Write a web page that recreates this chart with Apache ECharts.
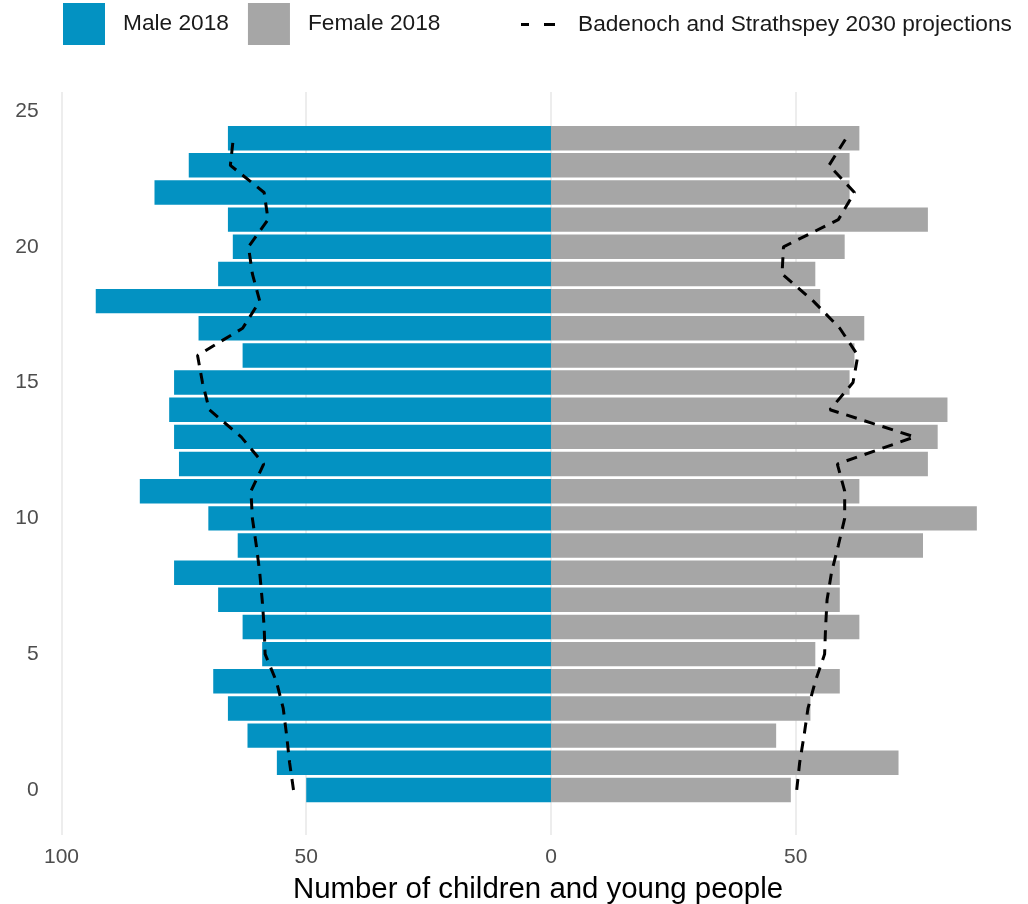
<!DOCTYPE html>
<html>
<head>
<meta charset="utf-8">
<script src="https://cdn.jsdelivr.net/npm/echarts@6/dist/echarts.min.js"></script>
<style>
html,body{margin:0;padding:0;background:#ffffff;}
#chart{width:1028px;height:904px;}
</style>
</head>
<body>
<div id="chart"></div>
<script>
// ---- Data ----
const ages = [0,1,2,3,4,5,6,7,8,9,10,11,12,13,14,15,16,17,18,19,20,21,22,23,24];
const male2018 = [50,56,62,66,69,59,63,68,77,64,70,84,76,77,78,77,63,72,93,68,65,66,81,74,66];
const female2018 = [49,71,46,53,59,54,63,59,59,76,87,63,77,79,81,61,62,64,55,54,60,77,61,61,63];
const maleProj2030 = [52.6,53.4,54,54.7,56.1,58.4,58.6,59,59.5,60.2,61,61.3,58.7,63.3,69.8,71.2,72.2,63,59.5,61,61.8,57.8,58.6,65.5,64.9];
const femaleProj2030 = [50.2,50.8,51.7,52.5,54,55.9,56.1,56.4,57.3,58.7,60,60,58.5,74.3,57,61.7,62.7,59,53.6,47.2,47.5,58.7,62,56.8,60.3];
const xTickValues = [-100,-50,0,50];
const yTickValues = [0,5,10,15,20,25];

const MALE_NAME = 'Male 2018';
const FEMALE_NAME = 'Female 2018';
const PROJ_NAME = 'Badenoch and Strathspey 2030 projections';

const chart = echarts.init(document.getElementById('chart'), null, {renderer: 'canvas'});

function barRenderer(color) {
  return function (params, api) {
    const v = api.value(0);
    const a = api.value(1);
    const p0 = api.coord([0, a]);
    const p1 = api.coord([v, a]);
    const h = api.size([0, 0.9])[1];
    return {
      type: 'rect',
      shape: {
        x: Math.min(p0[0], p1[0]),
        y: p0[1] - h / 2,
        width: Math.abs(p1[0] - p0[0]),
        height: h
      },
      style: { fill: color }
    };
  };
}

const FONT = '"Liberation Sans", Arial, sans-serif';
const DASH = [11, 8];

const option = {
  animation: false,
  backgroundColor: '#ffffff',
  textStyle: { fontFamily: FONT },
  grid: { left: 51.7, right: 7.1, top: 92, bottom: 69, containLabel: false },
  title: {
    text: 'Number of children and young people',
    left: 533,
    top: 870,
    textAlign: 'center',
    textStyle: { fontFamily: FONT, fontSize: 29.4, fontWeight: 'normal', color: '#000000' }
  },
  legend: [
    {
      data: [{ name: MALE_NAME, icon: 'rect' }, { name: FEMALE_NAME, icon: 'rect' }],
      left: 63, top: 3, padding: 0,
      itemWidth: 42, itemHeight: 42, itemGap: 19,
      selectedMode: false,
      textStyle: { fontFamily: FONT, fontSize: 22.7, color: '#1a1a1a', padding: [2, 0, 0, 13] }
    },
    {
      data: [{
        name: PROJ_NAME,
        icon: 'path://M0,0H8V3H0Z M23,0H34V3H23Z',
        itemStyle: { color: '#000000' }
      }],
      left: 521, top: 13, padding: 0,
      itemWidth: 34, itemHeight: 3,
      selectedMode: false,
      textStyle: { fontFamily: FONT, fontSize: 22.7, color: '#1a1a1a', padding: [0, 0, 0, 18] }
    }
  ],
  xAxis: {
    type: 'value',
    min: -102, max: 96,
    axisLine: { show: false },
    axisTick: { show: false },
    splitLine: { show: false },
    axisLabel: {
      customValues: xTickValues,
      formatter: function (v) { return String(Math.abs(v)); },
      fontFamily: FONT, fontSize: 21, color: '#4d4d4d', margin: 12
    }
  },
  yAxis: {
    type: 'value',
    min: -1.66, max: 25.7,
    axisLine: { show: false },
    axisTick: { show: false },
    splitLine: { show: false },
    axisLabel: {
      customValues: yTickValues,
      fontFamily: FONT, fontSize: 21, color: '#4d4d4d', margin: 13
    }
  },
  series: [
    {
      name: MALE_NAME,
      type: 'custom',
      renderItem: barRenderer('#0392c2'),
      itemStyle: { color: '#0392c2' },
      encode: { x: 0, y: 1 },
      data: ages.map((a, i) => [-male2018[i], a]),
      z: 2
    },
    {
      name: FEMALE_NAME,
      type: 'custom',
      renderItem: barRenderer('#a6a6a6'),
      itemStyle: { color: '#a6a6a6' },
      encode: { x: 0, y: 1 },
      data: ages.map((a, i) => [female2018[i], a]),
      z: 2
    },
    {
      name: PROJ_NAME,
      type: 'line',
      symbol: 'none',
      lineStyle: { color: '#000000', width: 3, type: DASH },
      itemStyle: { color: '#000000' },
      data: ages.map((a, i) => [-maleProj2030[i], a]),
      z: 4,
      markLine: {
        silent: true,
        symbol: 'none',
        z: 1,
        label: { show: false },
        lineStyle: { color: '#ebebeb', width: 1.8, type: 'solid' },
        data: xTickValues.map(v => ({ xAxis: v }))
      }
    },
    {
      name: PROJ_NAME,
      type: 'line',
      symbol: 'none',
      lineStyle: { color: '#000000', width: 3, type: DASH },
      itemStyle: { color: '#000000' },
      data: ages.map((a, i) => [femaleProj2030[i], a]),
      z: 4
    }
  ]
};

chart.setOption(option);
</script>
</body>
</html>
